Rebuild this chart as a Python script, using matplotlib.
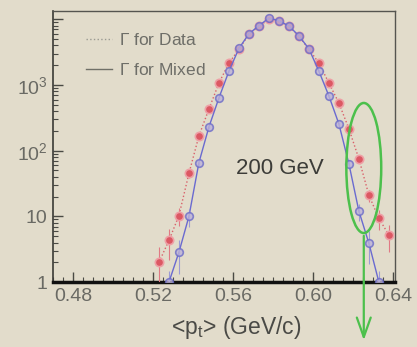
import matplotlib
matplotlib.use("Agg")
import matplotlib.pyplot as plt
from matplotlib.lines import Line2D
from matplotlib.patches import Ellipse
from matplotlib.ticker import FixedLocator, MultipleLocator, NullFormatter

plt.rcParams['font.family'] = ['Liberation Sans', 'DejaVu Sans']
plt.rcParams['mathtext.fontset'] = 'custom'
plt.rcParams['mathtext.rm'] = 'Liberation Sans'
plt.rcParams['mathtext.it'] = 'Liberation Sans'
plt.rcParams['mathtext.bf'] = 'Liberation Sans:bold'

# <pt> bins (GeV/c)
pt = [0.523, 0.528, 0.533, 0.538, 0.543, 0.548, 0.553, 0.558, 0.563, 0.568,
      0.573, 0.578, 0.583, 0.588, 0.593, 0.598, 0.603, 0.608, 0.613, 0.618,
      0.623, 0.628, 0.633, 0.638]

# real events
data_counts = [2.0, 4.3, 10.3, 45, 168, 430, 1070, 2150, 3500, 5900,
               7800, 10000, 9300, 7800, 5500, 3500, 2150, 1070, 530, 215,
               75, 21, 9.3, 5.2]
data_err = [1.4, 2.1, 3.2, 6.7, 13, 21, 33, 46, 59, 77,
            88, 100, 96, 88, 74, 59, 46, 33, 23, 15,
            8.7, 4.6, 3.0, 2.3]

# mixed events
mixed_pt = [0.528, 0.533, 0.538, 0.543, 0.548, 0.553, 0.558, 0.563, 0.568,
            0.573, 0.578, 0.583, 0.588, 0.593, 0.598, 0.603, 0.608, 0.613,
            0.618, 0.623, 0.628, 0.633]
mixed_counts = [1.0, 2.85, 10, 66, 230, 635, 1620, 3600, 6000,
                8000, 10400, 9500, 7900, 5600, 3550, 1620, 680, 255,
                63, 12, 3.9, 1.0]
mixed_err = [0.5, 1.5, 3.0, 8, 15, 25, 40, 60, 77,
             89, 102, 97, 89, 75, 60, 40, 26, 16,
             8, 3.5, 2.0, 0.5]

bg = '#e2dccb'
fig = plt.figure(figsize=(4.17, 3.47), dpi=100, facecolor=bg)
ax = fig.add_axes([0.127, 0.187, 0.820, 0.781], facecolor=bg)

# Data: filled red with dotted line
ax.plot(pt, data_counts, linestyle=':', color='#d9606a', lw=1.0, zorder=2)
ax.errorbar(pt, data_counts, yerr=data_err, fmt='o', ms=6, color='#d94a58',
            mfc='#dc5863', mec='#eea0a6', mew=1.2, ecolor='#e07a84',
            elinewidth=0.8, capsize=0, zorder=3)

# Mixed: open blue with solid line
ax.plot(mixed_pt, mixed_counts, linestyle='-', color='#6a6ad0', lw=1.0, zorder=4)
ax.errorbar(mixed_pt, mixed_counts, yerr=mixed_err, fmt='o', ms=5.5, color='#6a6ad0',
            mfc='#bcb2d8', mec='#6c6cc8', mew=1.2, ecolor='#8a8ad8',
            elinewidth=0.8, capsize=0, alpha=0.8, zorder=5)

ax.set_yscale('log')
ax.set_xlim(0.47, 0.641)
ax.set_ylim(1, 13300)

ax.xaxis.set_major_locator(FixedLocator([0.48, 0.52, 0.56, 0.60, 0.64]))
ax.xaxis.set_minor_locator(MultipleLocator(0.005))
ax.set_xticklabels(['0.48', '0.52', '0.56', '0.60', '0.64'])
ax.yaxis.set_major_locator(FixedLocator([1, 10, 100, 1000, 10000]))
ax.set_yticklabels(['1', '10', r'$10^2$', r'$10^3$', ''])
ax.yaxis.set_minor_formatter(NullFormatter())

ax.tick_params(which='both', direction='in', top=False, right=False,
               colors='#4a4a44', labelcolor='#6a6a64', labelsize=14)
ax.tick_params(which='major', length=7, width=1.0)
ax.tick_params(which='minor', length=3.5, width=0.8)
ax.tick_params(axis='x', pad=4)
ax.tick_params(axis='y', pad=4)

for side in ['top', 'right']:
    ax.spines[side].set_color('#555550')
    ax.spines[side].set_linewidth(1.0)
ax.spines['left'].set_color('#3a3a36')
ax.spines['left'].set_linewidth(1.2)
ax.spines['bottom'].set_color('#111111')
ax.spines['bottom'].set_linewidth(2.5)

ax.set_xlabel(r'<p$_\mathrm{t}$> (GeV/c)', fontsize=16.5, color='#4a4a46')
ax.xaxis.set_label_coords(0.535, -0.118)

ax.text(0.665, 0.42, '200 GeV', transform=ax.transAxes, fontsize=16,
        color='#3c3c38', ha='center', va='center')

handles = [Line2D([], [], color='#9a9a92', linestyle=':', lw=1.0),
           Line2D([], [], color='#707068', linestyle='-', lw=1.0)]
ax.legend(handles, [r'$\Gamma$ for Data', r'$\Gamma$ for Mixed'],
          loc='upper left', bbox_to_anchor=(0.05, 0.98), frameon=False,
          fontsize=12.5, labelcolor='#6e6e68', handlelength=1.5,
          handletextpad=0.4, labelspacing=0.8)

# highlighted tail region
ax.add_patch(Ellipse((0.909, 0.421), 0.102, 0.48, transform=ax.transAxes,
                     fill=False, edgecolor='#4cc04c', lw=1.8, clip_on=False,
                     zorder=6))
ax.annotate('', xy=(0.909, -0.225), xytext=(0.909, 0.181),
            xycoords='axes fraction', textcoords='axes fraction',
            arrowprops=dict(arrowstyle='->,head_length=1.4,head_width=0.5',
                            color='#4cc04c', lw=1.6),
            annotation_clip=False, zorder=6)

fig.savefig('out.png', dpi=100, facecolor=bg)
